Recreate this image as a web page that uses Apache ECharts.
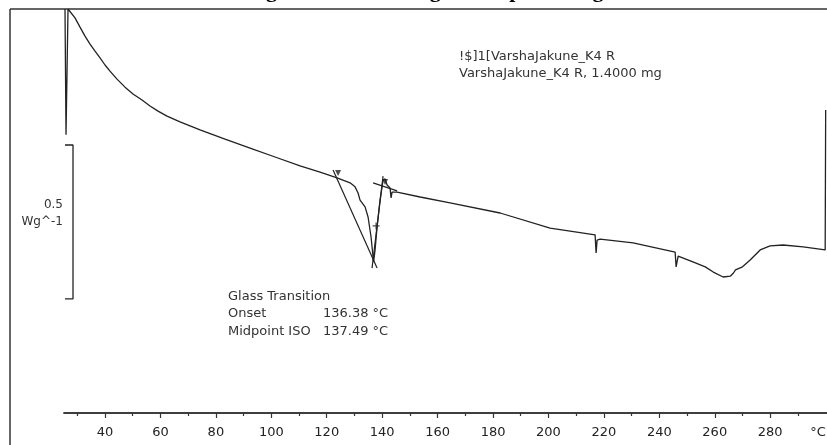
<!DOCTYPE html>
<html><head><meta charset="utf-8">
<style>html,body{margin:0;padding:0;background:#fff}#c{width:827px;height:445px}</style>
<script src="https://cdn.jsdelivr.net/npm/echarts@6/dist/echarts.min.js"></script>
</head><body><div id="c"></div>
<script>
// Temperature (°C) and heat flow (W/g, arbitrary offset)
const curveT = [25.56,25.93,26.65,27.37,29.17,30.98,32.78,34.59,36.39,38.20,40.00,41.80,44.33,47.22,50.10,53.35,56.24,59.13,62.37,67.07,70.67,74.28,83.31,92.33,101.35,110.37,117.59,123.72,128.42,130.22,131.30,132.02,133.83,134.91,135.99,136.72,136.90,137.44,138.16,139.24,139.96,140.32,141.05,141.77,142.49,142.85,143.21,143.57,145.38,153.68,164.50,182.55,200.59,216.83,217.19,217.55,218.64,230.54,245.70,246.06,246.79,252.11,256.58,259.47,263.02,265.68,266.76,267.48,270.01,272.77,276.38,279.98,284.68,291.90,299.84,300.02];
const curveW = [0.013,-0.396,0.013,0.010,-0.016,-0.046,-0.075,-0.101,-0.124,-0.146,-0.169,-0.189,-0.215,-0.241,-0.263,-0.283,-0.302,-0.319,-0.335,-0.354,-0.367,-0.380,-0.410,-0.439,-0.468,-0.497,-0.517,-0.536,-0.552,-0.565,-0.585,-0.608,-0.630,-0.663,-0.728,-0.793,-0.809,-0.770,-0.695,-0.608,-0.565,-0.543,-0.539,-0.559,-0.565,-0.569,-0.601,-0.582,-0.582,-0.598,-0.617,-0.650,-0.699,-0.721,-0.780,-0.738,-0.735,-0.747,-0.777,-0.825,-0.790,-0.809,-0.825,-0.842,-0.858,-0.855,-0.845,-0.835,-0.825,-0.803,-0.770,-0.757,-0.754,-0.760,-0.770,-0.315];
// Glass-transition evaluation construction lines
const tangentA = [[122.28,-0.510],[138.16,-0.829]];
const tangentB = [[136.35,-0.829],[140.32,-0.530]];
const tangentC = [[136.72,-0.552],[145.38,-0.578]];
const evalMarks = [[124.08,-0.520],[141.05,-0.549]];
const midMark = [[137.80,-0.692]];
// 0.5 W/g scale bar
const scaleBar = [[25.56,-0.429],[28.45,-0.429],[28.45,-0.929],[25.56,-0.929]];
const majorTicks = [40,60,80,100,120,140,160,180,200,220,240,260,280];
const minorTicks = [30,50,70,90,110,130,150,170,190,210,230,250,270,290];

const F = 'DejaVu Sans, Verdana, sans-serif';
const chart = echarts.init(document.getElementById('c'), null, {renderer:'canvas'});
const gridBox = {left:64, right:0, top:9, bottom:32};
const xBase = {type:'value', min:25.2, max:300.5, position:'bottom',
  axisLine:{show:true, onZero:false, lineStyle:{color:'#333', width:1.5}}, splitLine:{show:false}};
chart.setOption({
  animation:false,
  grid:[Object.assign({}, gridBox), Object.assign({}, gridBox)],
  xAxis:[
    Object.assign({}, xBase, {gridIndex:0,
      axisTick:{show:true, length:5, customValues:majorTicks, lineStyle:{color:'#333', width:1.2}},
      axisLabel:{show:true, customValues:majorTicks, margin:13, color:'#222', fontFamily:F, fontSize:13}
    }),
    Object.assign({}, xBase, {gridIndex:1,
      axisTick:{show:true, length:3, customValues:minorTicks, lineStyle:{color:'#333', width:1.2}},
      axisLabel:{show:false}
    })
  ],
  yAxis:[{type:'value', min:-1.3, max:0.013, show:false, gridIndex:0},
         {type:'value', min:-1.3, max:0.013, show:false, gridIndex:1}],
  series:[
    {type:'line', data:curveT.map((t,i)=>[t,curveW[i]]), symbol:'none', lineStyle:{color:'#222', width:1.3}, z:5},
    {type:'line', data:tangentA, symbol:'none', lineStyle:{color:'#222', width:1.2}},
    {type:'line', data:tangentB, symbol:'none', lineStyle:{color:'#222', width:1.2}},
    {type:'line', data:tangentC, symbol:'none', lineStyle:{color:'#222', width:1.2}},
    {type:'scatter', data:evalMarks, symbol:'triangle', symbolRotate:180, symbolSize:6, itemStyle:{color:'#222'}},
    {type:'scatter', data:midMark, symbol:'path://M0,5L10,5M5,0L5,10', symbolSize:7, itemStyle:{color:'none', borderColor:'#222', borderWidth:1.2}},
    {type:'line', data:scaleBar, symbol:'none', lineStyle:{color:'#222', width:1.3}}
  ],
  graphic:[
    {type:'line', shape:{x1:10, y1:9, x2:827, y2:9}, style:{stroke:'#333', lineWidth:1.5}},
    {type:'line', shape:{x1:10, y1:9, x2:10, y2:445}, style:{stroke:'#333', lineWidth:1.5}},
    {type:'text', x:425, y:2, style:{text:'Fig. 4: DSC thermogram of pure drug', font:'bold 22px "Liberation Serif", serif', fill:'#000', align:'center', verticalAlign:'bottom'}},
    {type:'text', x:63, y:205, style:{text:'0.5', font:'12px '+F, fill:'#333', align:'right', verticalAlign:'middle'}},
    {type:'text', x:63, y:222, style:{text:'Wg^-1', font:'12px '+F, fill:'#333', align:'right', verticalAlign:'middle'}},
    {type:'text', x:459, y:57, style:{text:'!$]1[VarshaJakune_K4 R', font:'13px '+F, fill:'#333', align:'left', verticalAlign:'middle'}},
    {type:'text', x:459, y:74, style:{text:'VarshaJakune_K4 R, 1.4000 mg', font:'13px '+F, fill:'#333', align:'left', verticalAlign:'middle'}},
    {type:'text', x:228, y:297, style:{text:'Glass Transition', font:'13px '+F, fill:'#333', align:'left', verticalAlign:'middle'}},
    {type:'text', x:228, y:314, style:{text:'Onset', font:'13px '+F, fill:'#333', align:'left', verticalAlign:'middle'}},
    {type:'text', x:323, y:314, style:{text:'136.38 °C', font:'13px '+F, fill:'#333', align:'left', verticalAlign:'middle'}},
    {type:'text', x:228, y:332, style:{text:'Midpoint ISO', font:'13px '+F, fill:'#333', align:'left', verticalAlign:'middle'}},
    {type:'text', x:323, y:332, style:{text:'137.49 °C', font:'13px '+F, fill:'#333', align:'left', verticalAlign:'middle'}},
    {type:'text', x:818, y:433, style:{text:'°C', font:'13px '+F, fill:'#222', align:'center', verticalAlign:'middle'}}
  ]
});
</script></body></html>
